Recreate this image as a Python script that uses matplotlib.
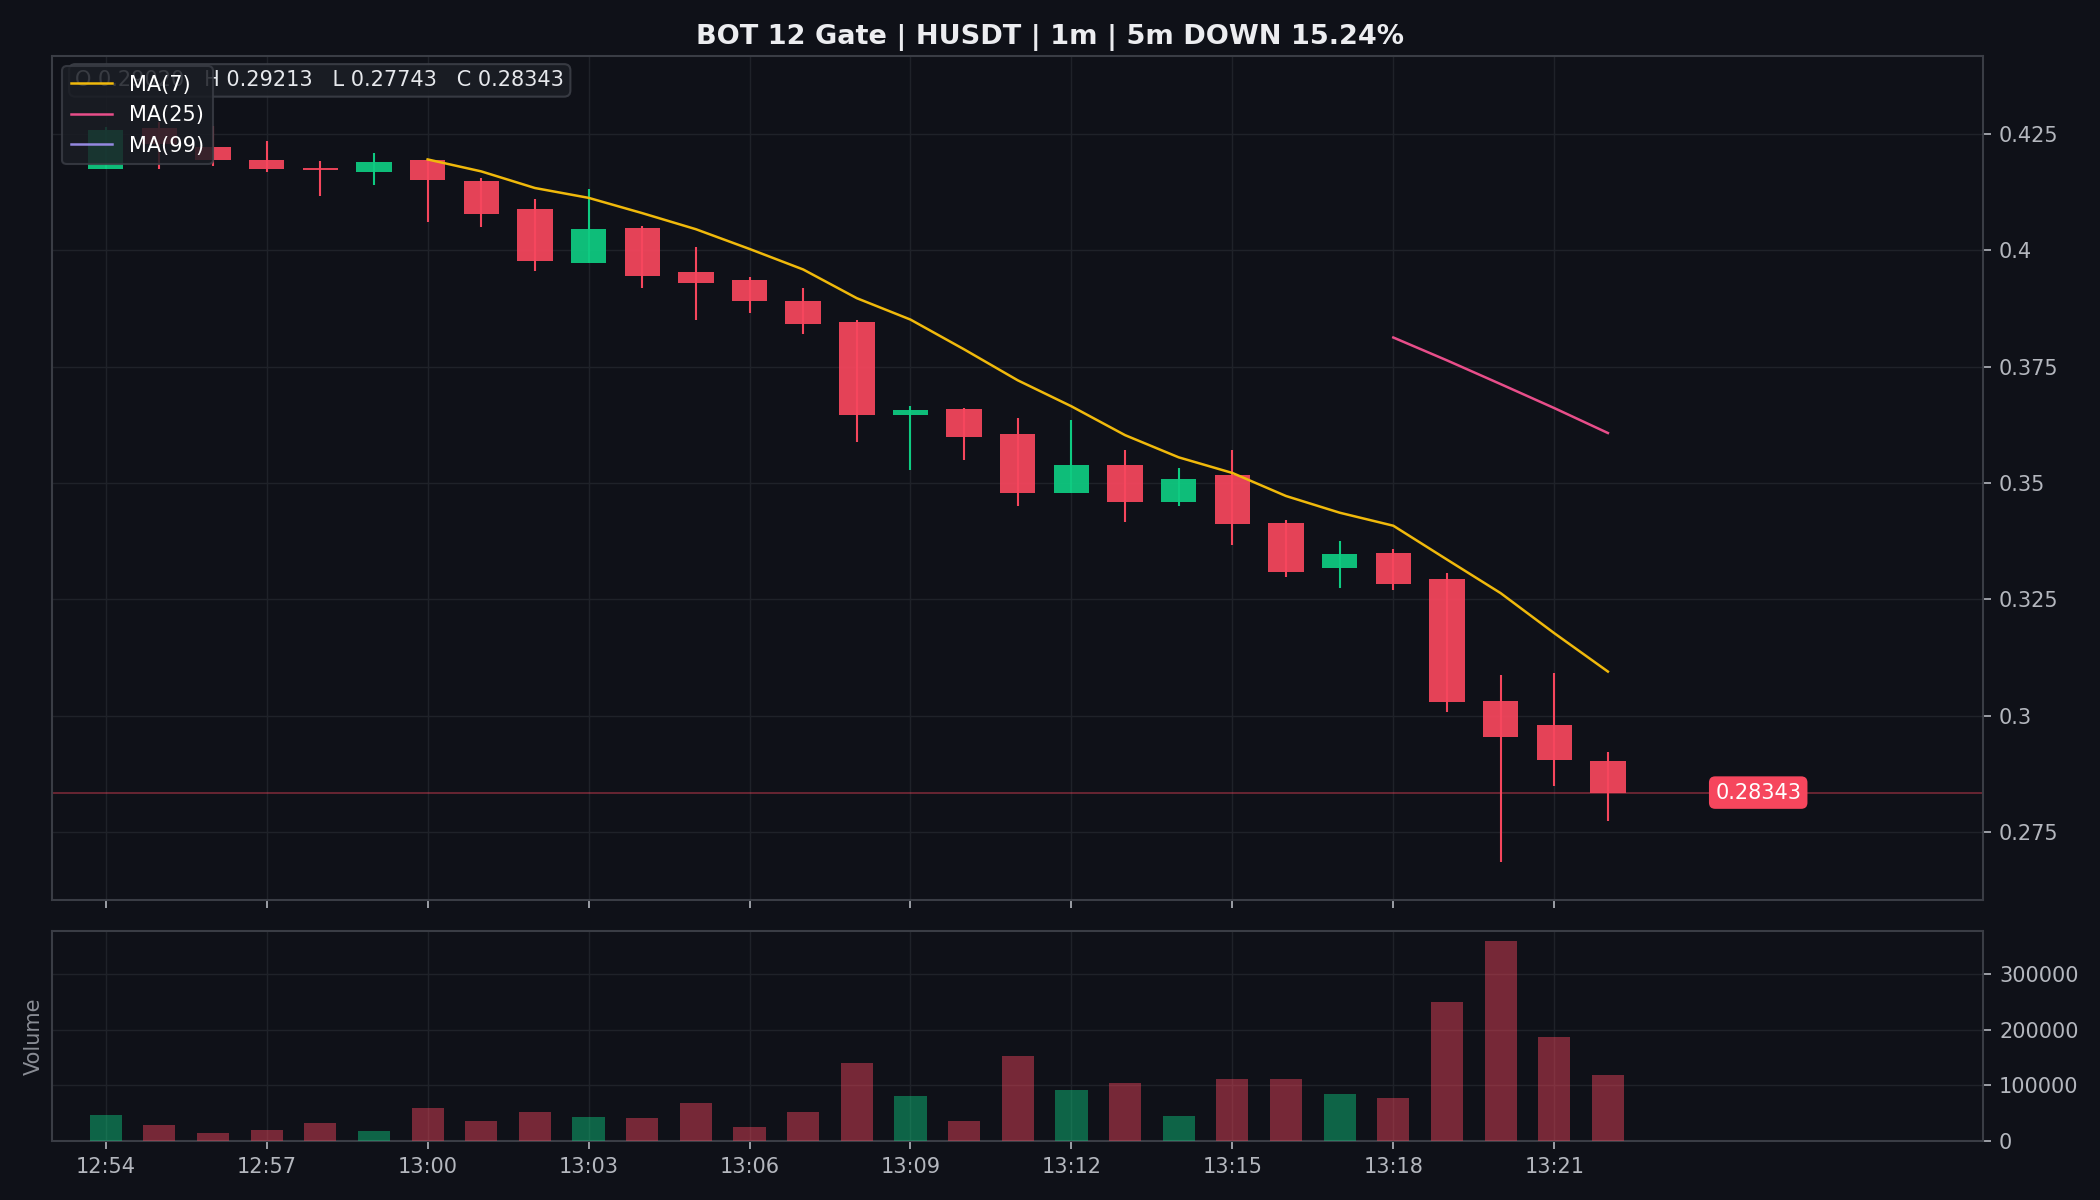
import matplotlib
matplotlib.use("Agg")
import matplotlib.pyplot as plt
import numpy as np
import pandas as pd
from matplotlib.ticker import FuncFormatter, FixedLocator

times = ["12:54", "12:55", "12:56", "12:57", "12:58", "12:59", "13:00", "13:01",
         "13:02", "13:03", "13:04", "13:05", "13:06", "13:07", "13:08", "13:09",
         "13:10", "13:11", "13:12", "13:13", "13:14", "13:15", "13:16", "13:17",
         "13:18", "13:19", "13:20", "13:21", "13:22"]
opens = [0.4175, 0.4262, 0.4222, 0.4194, 0.4177, 0.4169, 0.4194, 0.4149,
         0.4089, 0.3973, 0.4048, 0.3953, 0.3936, 0.3891, 0.3845, 0.3645,
         0.3660, 0.3605, 0.3479, 0.3539, 0.3460, 0.3517, 0.3414, 0.3318,
         0.3349, 0.3293, 0.3031, 0.2980, 0.2902]
highs = [0.4265, 0.4275, 0.4267, 0.4235, 0.4192, 0.4209, 0.4196, 0.4155,
         0.4110, 0.4132, 0.4052, 0.4008, 0.3943, 0.3919, 0.3851, 0.3665,
         0.3662, 0.3640, 0.3635, 0.3571, 0.3533, 0.3571, 0.3420, 0.3375,
         0.3359, 0.3306, 0.3087, 0.3091, 0.29213]
lows = [0.4175, 0.4175, 0.4181, 0.4169, 0.4117, 0.4140, 0.4061, 0.4051,
        0.3956, 0.3973, 0.3920, 0.3850, 0.3865, 0.3821, 0.3587, 0.3528,
        0.3549, 0.3451, 0.3479, 0.3415, 0.3451, 0.3367, 0.3298, 0.3275,
        0.3270, 0.3008, 0.2686, 0.2849, 0.27743]
closes = [0.4259, 0.4228, 0.4194, 0.4175, 0.4172, 0.4189, 0.4151, 0.4079,
          0.3978, 0.4046, 0.3945, 0.3930, 0.3892, 0.3842, 0.3647, 0.3656,
          0.3598, 0.3479, 0.3539, 0.3458, 0.3508, 0.3412, 0.3309, 0.3347,
          0.3283, 0.3030, 0.2953, 0.2905, 0.28343]
volumes = [47300, 29300, 15000, 20400, 32900, 18600, 59900, 36500,
           52700, 43700, 41900, 68900, 25700, 52700, 140700, 81400,
           36500, 153300, 92200, 104800, 45500, 112000, 112000, 85000,
           77800, 250300, 359900, 187400, 119200]

title = "BOT 12 Gate | HUSDT | 1m | 5m DOWN 15.24%"
ohlc_text = "O 0.29020   H 0.29213   L 0.27743   C 0.28343"
last_label = "0.28343"

BG = "#0f1118"
UP = "#0ecb81"
DOWN = "#f6465d"
GRID = "#1f2229"
SPINE = "#3a3d45"
TXT = "#b4b7be"

plt.rcParams['font.family'] = ['DejaVu Sans']
fig = plt.figure(figsize=(14, 8), dpi=150, facecolor=BG)
ax = fig.add_axes([0.0248, 0.25, 0.9197, 0.7033], facecolor=BG)
axv = fig.add_axes([0.0248, 0.0492, 0.9197, 0.175], facecolor=BG, sharex=ax)

x = np.arange(len(times))
o = np.array(opens); h = np.array(highs); l = np.array(lows); c = np.array(closes)
up = c >= o
cols = np.where(up, UP, DOWN)

# wicks
ax.vlines(x, l, h, colors=cols, linewidth=1.0, zorder=3)
# bodies
bottoms = np.minimum(o, c)
heights = np.maximum(np.abs(c - o), 0.0004)
ax.bar(x, heights, bottom=bottoms, width=0.66, color=cols, alpha=0.93, zorder=3, linewidth=0)

s = pd.Series(closes)
ma7 = s.rolling(7).mean()
ma25 = s.rolling(25).mean()
ma99 = s.rolling(99).mean()
ax.plot(x, ma7, color="#f0b90b", lw=1.2, label="MA(7)", zorder=4)
ax.plot(x, ma25, color="#e84e8a", lw=1.2, label="MA(25)", zorder=4)
ax.plot(x, ma99, color="#9488e0", lw=1.2, label="MA(99)", zorder=4)

ax.axhline(closes[-1], color=DOWN, lw=0.8, alpha=0.45, zorder=2)
ax.text(len(times) + 1, closes[-1], last_label, color="white", fontsize=10,
        ha="left", va="center", zorder=6,
        bbox=dict(boxstyle="round,pad=0.3", fc=DOWN, ec="none"))

ax.text(0.012, 0.983, ohlc_text, transform=ax.transAxes, color="#e6e8ec", fontsize=10,
        ha="left", va="top", zorder=5,
        bbox=dict(boxstyle="round,pad=0.3", fc="#1a1d24", ec=SPINE, alpha=0.95))

leg = ax.legend(loc="upper left", fontsize=10, facecolor="#1a1d24", edgecolor=SPINE,
                framealpha=0.85, labelcolor="white", bbox_to_anchor=(0.0, 1.0),
                borderaxespad=0.5, handlelength=2.0)
leg.set_zorder(10)

ax.set_xlim(-1, 35)
ax.set_ylim(0.26034, 0.44177)

# volume
vcols = np.where(up, UP, DOWN)
axv.bar(x, volumes, width=0.6, color=vcols, alpha=0.45, zorder=3, linewidth=0)
axv.set_ylim(0, max(volumes) * 1.05)
axv.set_ylabel("Volume", color="#8a8d95", fontsize=10)

tick_pos = x[::3]
for a in (ax, axv):
    a.yaxis.tick_right()
    a.grid(True, color=GRID, lw=0.7, zorder=0)
    a.set_axisbelow(True)
    for sp in a.spines.values():
        sp.set_color(SPINE)
        sp.set_linewidth(1.0)
    a.tick_params(colors=TXT, labelsize=10, length=4)
    a.xaxis.set_major_locator(FixedLocator(tick_pos))

ax.yaxis.set_major_locator(FixedLocator([0.275, 0.3, 0.325, 0.35, 0.375, 0.4, 0.425]))
ax.yaxis.set_major_formatter(FuncFormatter(lambda v, p: "%g" % round(v, 6)))
axv.yaxis.set_major_locator(FixedLocator([0, 100000, 200000, 300000]))
axv.yaxis.set_major_formatter(FuncFormatter(lambda v, p: "%d" % v))
ax.tick_params(axis="x", labelbottom=False)
axv.set_xticklabels([times[i] for i in tick_pos])

fig.text(0.5, 0.969, title, ha="center", va="center", color="#ecedf0",
         fontsize=13, fontweight="bold")

fig.savefig("out.png", dpi=150, facecolor=BG)
